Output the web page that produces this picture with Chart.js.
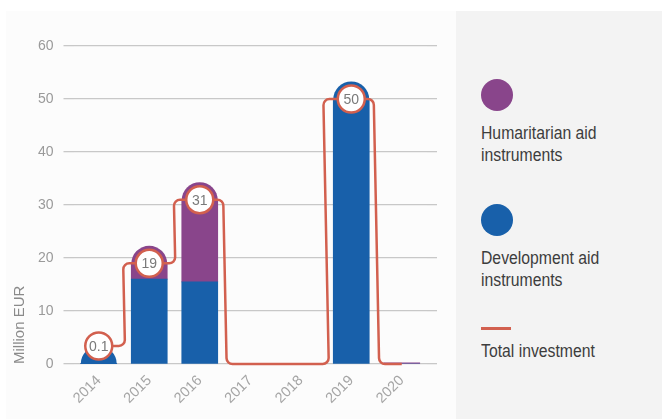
<!DOCTYPE html>
<html>
<head>
<meta charset="utf-8">
<script src="https://cdn.jsdelivr.net/npm/chart.js@4/dist/chart.umd.min.js"></script>
<style>
  body { margin: 0; width: 662px; height: 419px; overflow: hidden; background: #fff; position: relative; }
  #plotbg { position: absolute; left: 6px; top: 11px; width: 450px; height: 408px; background: #fcfcfc; }
  #wrap { position: absolute; left: 0; top: 0; width: 456px; height: 419px; }
  #panel { position: absolute; left: 456px; top: 11px; width: 206px; height: 408px; background: #f3f3f3; }
  .dot { position: absolute; width: 32px; height: 32px; border-radius: 50%; }
  .txt { position: absolute; left: 481px; font-family: "Liberation Sans", sans-serif;
         font-size: 17.5px; line-height: 22px; color: #3d3d3d; white-space: nowrap;
         transform: scaleX(0.9); transform-origin: left top; }
  .bar { position: absolute; left: 481px; top: 327px; width: 30px; height: 3px; background: #d2604f; }
</style>
</head>
<body>
<div id="plotbg"></div>
<div id="wrap"><canvas id="chart" width="456" height="419"></canvas></div>
<div id="panel"></div>
<div class="dot" style="left:481px;top:79px;background:#89458b"></div>
<div class="txt" style="top:122px">Humaritarian aid<br>instruments</div>
<div class="dot" style="left:481px;top:204px;background:#1860aa"></div>
<div class="txt" style="top:247px">Development aid<br>instruments</div>
<div class="bar"></div>
<div class="txt" style="top:340px">Total investment</div>
<script>
const years = ['2014', '2015', '2016', '2017', '2018', '2019', '2020'];
const development = [0.1, 16, 15.5, 0, 0, 50, 0];
const humanitarian = [0, 3, 15.5, 0, 0, 0, 0.2];
// level where the total line and its bubble sit (2014 is lifted above the axis in the original)
const totalLevels = [3.4, 19, 31, 0, 0, 50, 0];
const totalLabels = ['0.1', '19', '31', '', '', '50', ''];
const yTicks = [0, 10, 20, 30, 40, 50, 60];

const BLUE = '#1860aa', PURPLE = '#89458b', RED = '#d2604f', GRID = '#c8c8c8';

Chart.defaults.font.family = "'Liberation Sans', sans-serif";

// round cap on top of each stack
const barCaps = {
  id: 'barCaps',
  afterDatasetDraw(chart, args) {
    const ds = chart.data.datasets[args.index];
    if (ds.type === 'line') return;
    const ctx = chart.ctx;
    args.meta.data.forEach((bar, i) => {
      if (!totalLabels[i] || !ds.data[i]) return;
      const above = chart.data.datasets.slice(args.index + 1)
        .some(d => d.type !== 'line' && d.data[i] > 0);
      if (above) return;
      ctx.save();
      ctx.fillStyle = ds.backgroundColor;
      ctx.beginPath();
      ctx.arc(bar.x, bar.y + 0.5, bar.width / 2, Math.PI, 2 * Math.PI);
      ctx.fill();
      ctx.restore();
    });
  }
};

// step line with rounded corners, through the points placed by the scales
const roundedSteps = {
  id: 'roundedSteps',
  beforeDatasetDraw(chart, args) {
    if (chart.data.datasets[args.index].type !== 'line') return;
    const pts = args.meta.data;
    const ctx = chart.ctx;
    const r = 6;
    ctx.save();
    ctx.strokeStyle = RED;
    ctx.lineWidth = 2.5;
    ctx.lineJoin = 'round';
    ctx.beginPath();
    ctx.moveTo(pts[0].x, pts[0].y);
    for (let i = 1; i < pts.length; i++) {
      const a = pts[i - 1], b = pts[i];
      const m = (a.x + b.x) / 2;
      const dy = b.y - a.y;
      if (Math.abs(dy) < 0.5) { ctx.lineTo(b.x, b.y); continue; }
      const s = Math.abs(dy) * 0.01 * Math.sign(dy);
      const rr = Math.min(r, Math.abs(dy) / 2);
      ctx.arcTo(m - s, a.y, m - s, b.y, rr);
      ctx.arcTo(m + s, b.y, b.x, b.y, rr);
      ctx.lineTo(b.x, b.y);
    }
    ctx.stroke();
    ctx.restore();
  }
};

// numbers inside the bubbles
const bubbleText = {
  id: 'bubbleText',
  afterDatasetsDraw(chart) {
    const meta = chart.getDatasetMeta(2);
    const ctx = chart.ctx;
    ctx.save();
    ctx.font = "14px 'Liberation Sans', sans-serif";
    ctx.fillStyle = '#7a7a7a';
    ctx.textAlign = 'center';
    ctx.textBaseline = 'middle';
    meta.data.forEach((pt, i) => {
      if (totalLabels[i]) ctx.fillText(totalLabels[i], pt.x, pt.y + 1);
    });
    ctx.restore();
  }
};

const yScale = {
  min: yTicks[0], max: yTicks[yTicks.length - 1]
};

new Chart(document.getElementById('chart'), {
  type: 'bar',
  data: {
    labels: years,
    datasets: [
      { label: 'Development aid instruments', data: development, backgroundColor: BLUE,
        stack: 'aid', barThickness: 36, order: 1 },
      { label: 'Humaritarian aid instruments', data: humanitarian, backgroundColor: PURPLE,
        stack: 'aid', barThickness: 36, order: 1 },
      { type: 'line', label: 'Total investment', data: totalLevels, stack: 'total',
        showLine: false, borderColor: RED, borderWidth: 2.5, order: 0,
        pointRadius: ctx => totalLabels[ctx.dataIndex] ? 13.5 : 0,
        pointBackgroundColor: '#fff', pointBorderColor: RED, pointBorderWidth: 2.5,
        pointHoverRadius: 0 }
    ]
  },
  options: {
    responsive: false,
    animation: false,
    layout: { padding: { left: 11, top: 46, right: 0, bottom: 0 } },
    plugins: { legend: { display: false }, tooltip: { enabled: false } },
    scales: {
      x: {
        stacked: true,
        offset: true,
        grid: { display: false, drawTicks: false },
        border: { display: false },
        ticks: { color: '#a5a5a5', font: { size: 14.5 }, minRotation: 45, maxRotation: 45, padding: 8 },
        afterFit: s => { s.height = 55; }
      },
      y: {
        ...yScale,
        stacked: true,
        grid: { color: GRID, lineWidth: 1.3, tickLength: 10 },
        border: { display: false },
        ticks: { stepSize: 10, color: '#9a9a9a', font: { size: 14 }, padding: 10 },
        title: { display: true, text: 'Million EUR', align: 'start', color: '#8a8a8a',
                 font: { size: 15 }, padding: { top: 0, bottom: 0 } },
        afterFit: s => { s.width = 62.5; }
      },
      y2: {
        ...yScale,
        position: 'right',
        grid: { color: GRID, lineWidth: 1.3, tickLength: 10, drawOnChartArea: false },
        border: { display: false },
        ticks: { stepSize: 10, display: false },
        afterFit: s => { s.width = 29; }
      }
    }
  },
  plugins: [barCaps, roundedSteps, bubbleText]
});
</script>
</body>
</html>
